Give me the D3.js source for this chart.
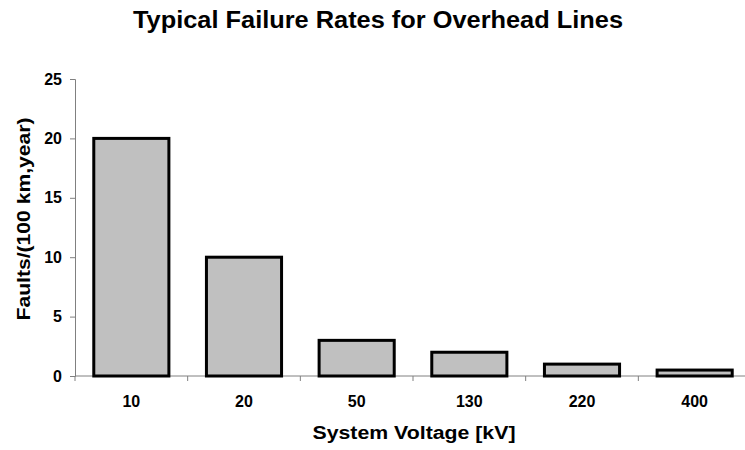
<!DOCTYPE html>
<html>
<head>
<script src="https://cdn.jsdelivr.net/npm/d3@7"></script>
<style>
  body { margin: 0; background: #fff; }
  svg text { font-family: "Liberation Sans", Arial, sans-serif; font-weight: bold; fill: #000; }
</style>
</head>
<body>
<svg id="chart" width="745" height="450"></svg>
<script>
// data
var voltages = ["10", "20", "50", "130", "220", "400"];
var faults = [20, 10, 3, 2, 1, 0.5];
var yTicks = [0, 5, 10, 15, 20, 25];

var margin = {left: 75, top: 79, right: -6, bottom: 74};
var width = 745 - margin.left - margin.right;
var height = 450 - margin.top - margin.bottom;

var svg = d3.select("svg#chart");
var g = svg.append("g").attr("transform", "translate(" + margin.left + "," + margin.top + ")");

var x = d3.scaleBand().domain(voltages).range([0, width]).paddingInner(1 / 3).paddingOuter(1 / 6);
var y = d3.scaleLinear().domain([0, 25]).range([height, 0]);

// title
svg.append("text").attr("x", 378).attr("y", 28).attr("text-anchor", "middle")
    .style("font-size", "23px").attr("textLength", 490).attr("lengthAdjust", "spacingAndGlyphs")
    .text("Typical Failure Rates for Overhead Lines");

// y axis
var yAxis = d3.axisLeft(y).tickValues(yTicks).tickSize(5).tickPadding(8);
var ya = g.append("g").call(yAxis);
ya.selectAll("text").style("font-size", "16px");
ya.selectAll("line, path").attr("stroke", "#808080");

// x axis: ticks between categories like Excel
var step = x.step();
var xa = g.append("g").attr("transform", "translate(0," + height + ")");
xa.append("line").attr("x1", 0).attr("x2", width).attr("stroke", "#808080");
xa.selectAll("line.tk").data(d3.range(voltages.length + 1)).enter().append("line")
    .attr("class", "tk")
    .attr("x1", function(i) { return i * step; }).attr("x2", function(i) { return i * step; })
    .attr("y1", 0).attr("y2", 5).attr("stroke", "#808080");
xa.selectAll("text").data(voltages).enter().append("text")
    .attr("x", function(d) { return x(d) + x.bandwidth() / 2; })
    .attr("y", 31).attr("text-anchor", "middle").style("font-size", "16px")
    .text(function(d) { return d; });

// bars
g.selectAll("rect.bar").data(faults).enter().append("rect")
    .attr("class", "bar")
    .attr("x", function(d, i) { return x(voltages[i]); })
    .attr("y", function(d) { return y(d); })
    .attr("width", x.bandwidth())
    .attr("height", function(d) { return height - y(d); })
    .attr("fill", "#c0c0c0").attr("stroke", "#000").attr("stroke-width", 3);

// axis titles
svg.append("text").attr("x", 414).attr("y", 439).attr("text-anchor", "middle")
    .style("font-size", "18px").attr("textLength", 203).attr("lengthAdjust", "spacingAndGlyphs")
    .text("System Voltage [kV]");
svg.append("text").attr("transform", "translate(30,219) rotate(-90)")
    .attr("text-anchor", "middle").style("font-size", "18px")
    .attr("textLength", 203).attr("lengthAdjust", "spacingAndGlyphs")
    .text("Faults/(100 km,year)");
</script>
</body>
</html>
